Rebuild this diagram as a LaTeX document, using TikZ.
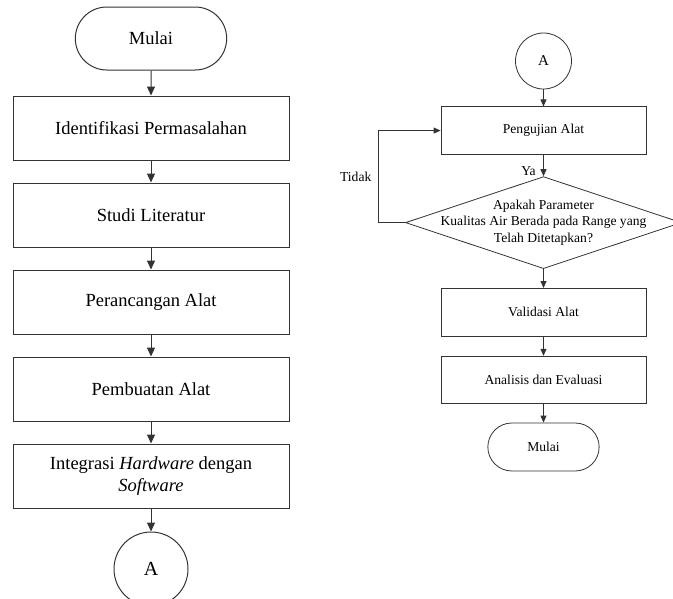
\documentclass[tikz,border=0pt]{standalone}
\usepackage{fontspec}
\setmainfont{Liberation Serif}
\usetikzlibrary{positioning, shapes.geometric, shapes.misc, arrows.meta}

\begin{document}
\begin{tikzpicture}[
  x=1pt, y=-1pt,
  node distance=22pt,
  term/.style={draw=black!80, line width=1pt, rounded rectangle, minimum width=158pt, minimum height=63pt, font=\fontsize{18.5}{22}\selectfont},
  proc/.style={draw=black!80, line width=1pt, minimum width=276pt, minimum height=64pt, align=center, font=\fontsize{18.5}{22}\selectfont},
  konek/.style={draw=black!80, line width=1pt, circle, minimum size=74pt, inner sep=0pt, font=\fontsize{20}{24}\selectfont},
  term2/.style={draw=black!80, line width=0.8pt, rounded rectangle, minimum width=118pt, minimum height=48pt, font=\fontsize{13.6}{16.5}\selectfont},
  proc2/.style={draw=black!80, line width=0.8pt, minimum width=205pt, minimum height=47.5pt, align=center, font=\fontsize{13.6}{16.5}\selectfont},
  konek2/.style={draw=black!80, line width=0.8pt, circle, minimum size=56pt, inner sep=0pt, font=\fontsize{15}{18}\selectfont},
  kep/.style={draw=black!80, line width=0.8pt, diamond, minimum width=276pt, minimum height=92pt, inner sep=0pt},
  lbl/.style={font=\fontsize{13.6}{16.5}\selectfont, align=center},
  arr/.style={-{Triangle[length=9pt,width=8pt]}, line width=1pt, draw=black!80},
  arr2/.style={-{Triangle[length=7pt,width=6pt]}, line width=0.8pt, draw=black!80}
]
  \useasboundingbox (0,0) rectangle (673,598);

  \node[term] (mulai) at (151,38.5) {Mulai};
  \node[proc, below=25pt of mulai] (identifikasi) {Identifikasi Permasalahan};
  \node[proc, below=of identifikasi] (studi) {Studi Literatur};
  \node[proc, below=of studi] (perancangan) {Perancangan Alat};
  \node[proc, below=of perancangan] (pembuatan) {Pembuatan Alat};
  \node[proc, below=of pembuatan] (integrasi) {Integrasi \textit{Hardware} dengan\\\textit{Software}};
  \node[konek, below=23pt of integrasi] (konA) {A};

  \draw[arr] (mulai) -- (identifikasi);
  \draw[arr] (identifikasi) -- (studi);
  \draw[arr] (studi) -- (perancangan);
  \draw[arr] (perancangan) -- (pembuatan);
  \draw[arr] (pembuatan) -- (integrasi);
  \draw[arr] (integrasi) -- (konA);

  \node[konek2] (konA2) at (543.5,61) {A};
  \node[proc2, below=17pt of konA2] (pengujian) {Pengujian Alat};
  \node[kep, below=21.5pt of pengujian] (cek) {};
  \node[lbl] (cektext) at (cek) {Apakah Parameter\\Kualitas Air Berada pada Range yang\\Telah Ditetapkan?};
  \node[proc2, below=19pt of cek] (validasi) {Validasi Alat};
  \node[proc2, below=19.5pt of validasi] (analisis) {Analisis dan Evaluasi};
  \node[term2, below=18.5pt of analisis] (selesai) {Mulai};

  \draw[arr2] (konA2) -- (pengujian);
  \draw[arr2] (pengujian) -- node[lbl, left=4pt, pos=0.75] (ya) {Ya} (cek);
  \draw[arr2] (cek.west) -- ++(-27,0) |- node[lbl, left=3pt, pos=0.25] (tidak) {Tidak} (pengujian.west);
  \draw[arr2] (cek) -- (validasi);
  \draw[arr2] (validasi) -- (analisis);
  \draw[arr2] (analisis) -- (selesai);
\end{tikzpicture}
\end{document}
